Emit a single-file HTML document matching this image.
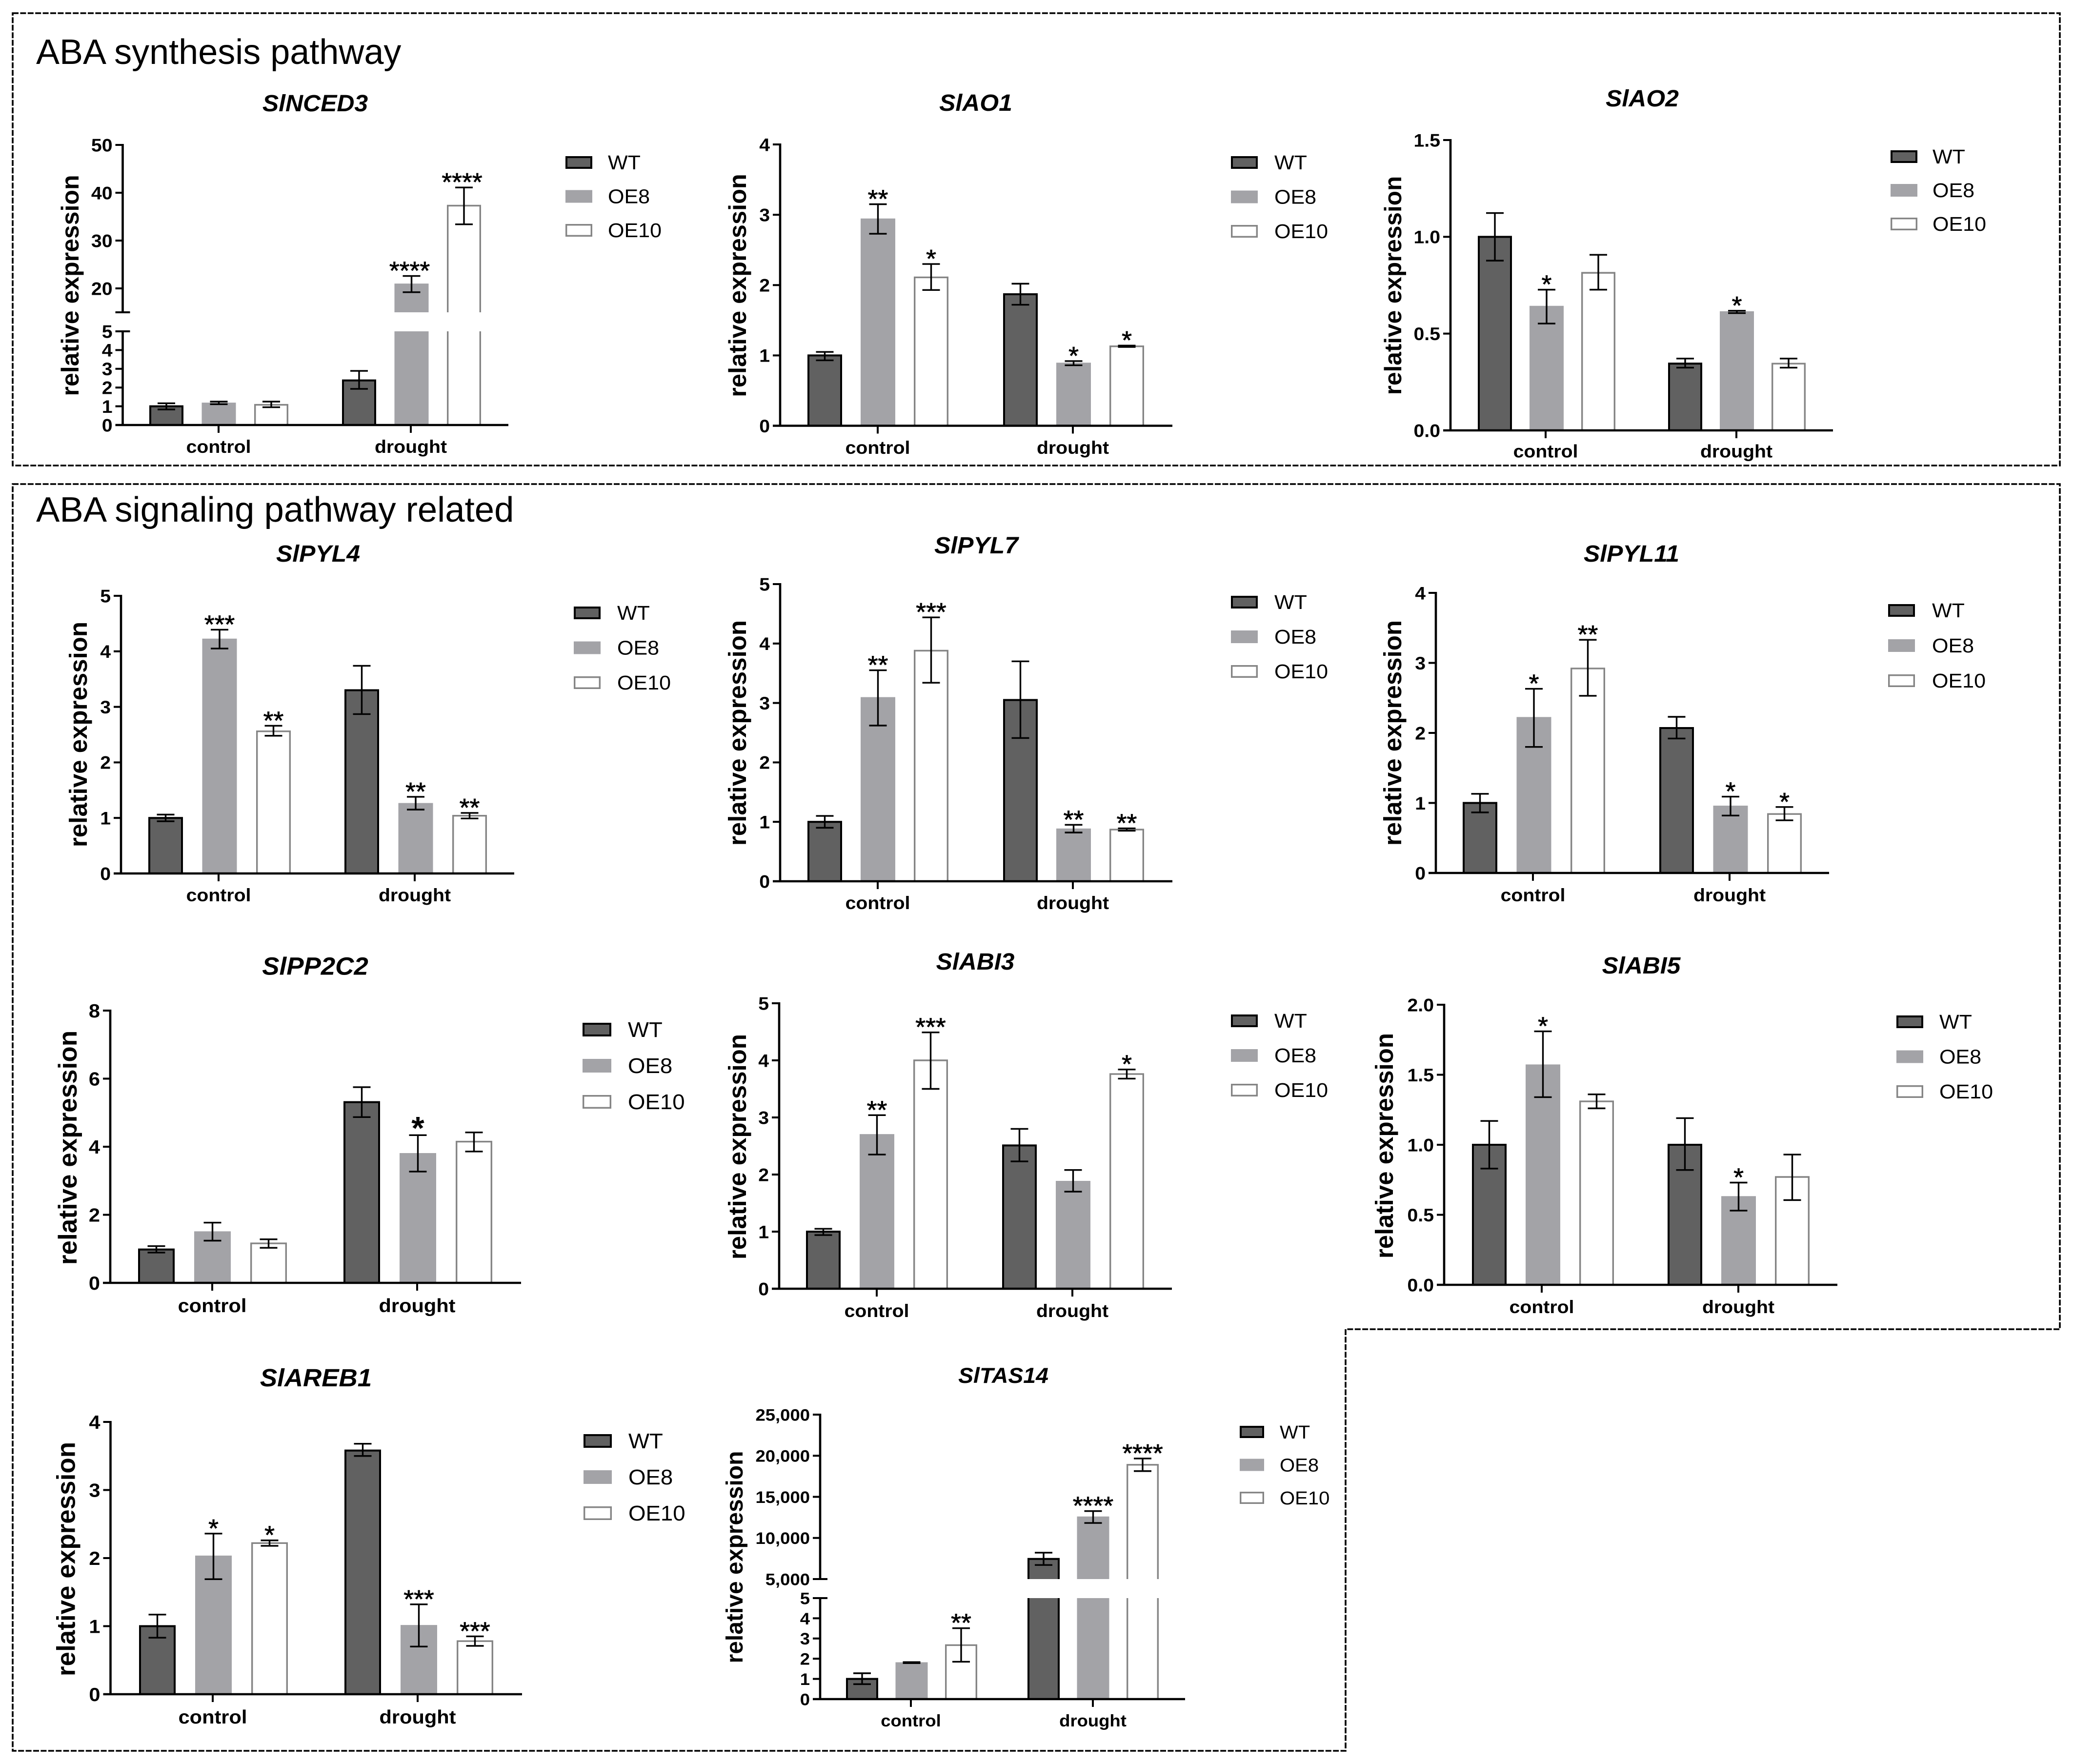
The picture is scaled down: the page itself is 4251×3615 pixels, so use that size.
<!DOCTYPE html>
<html lang="en">
<head>
<meta charset="utf-8">
<title>ABA pathway gene expression</title>
<style>
html,body{margin:0;padding:0;background:#fff;}
svg{display:block;}
text{font-family:"Liberation Sans",Arial,sans-serif;fill:#000;}
</style>
</head>
<body>
<svg id="figure" xmlns="http://www.w3.org/2000/svg" width="4251" height="3615" viewBox="0 0 4251 3615">
  <rect x="0" y="0" width="4251" height="3615" fill="#fff"/>
  <rect x="26" y="27" width="4196" height="927" fill="none" stroke="#000" stroke-width="3.6" stroke-dasharray="12 3.4"/>
  <path d="M26 992 H4222 V2724 H2758 V3588 H26 Z" fill="none" stroke="#000" stroke-width="3.6" stroke-dasharray="12 3.4"/>
  <text x="74" y="131" font-size="72">ABA synthesis pathway</text>
  <text x="74" y="1069" font-size="72.5">ABA signaling pathway related</text>
  <g id="charts"></g>
</svg>
<script>
const seriesNames = ['WT', 'OE8', 'OE10'];
const groupNames = ['control', 'drought'];
const yAxisTitle = 'relative expression';

const nced3Values = [1, 1.17, 1.08, 2.38, 20.9, 37.3];
const nced3ErrUp = [0.16, 0.08, 0.17, 0.51, 1.7, 3.8];
const nced3ErrDown = [0.17, 0.06, 0.13, 0.45, 1.7, 3.9];
const nced3Stars = ['', '', '', '', '****', '****'];
const nced3LowerTicks = ['0', '1', '2', '3', '4', '5'];
const nced3UpperTicks = ['20', '30', '40', '50'];
const nced3LowerRange = [0, 5];
const nced3UpperRange = [15, 50];

const ao1Values = [1, 2.94, 2.11, 1.87, 0.89, 1.13];
const ao1ErrUp = [0.05, 0.21, 0.19, 0.15, 0.03, 0.01];
const ao1ErrDown = [0.07, 0.21, 0.18, 0.15, 0.03, 0.01];
const ao1Stars = ['', '**', '*', '', '*', '*'];
const ao1Ticks = ['0', '1', '2', '3', '4'];
const ao1Range = [0, 4];

const ao2Values = [1, 0.641, 0.814, 0.345, 0.613, 0.345];
const ao2ErrUp = [0.123, 0.086, 0.093, 0.026, 0.005, 0.026];
const ao2ErrDown = [0.123, 0.089, 0.087, 0.021, 0.007, 0.021];
const ao2Stars = ['', '*', '', '', '*', ''];
const ao2Ticks = ['0.0', '0.5', '1.0', '1.5'];
const ao2Range = [0, 1.5];

const pyl4Values = [1, 4.22, 2.56, 3.3, 1.26, 1.04];
const pyl4ErrUp = [0.06, 0.17, 0.1, 0.44, 0.12, 0.05];
const pyl4ErrDown = [0.06, 0.17, 0.08, 0.43, 0.11, 0.05];
const pyl4Stars = ['', '***', '**', '', '**', '**'];
const pyl4Ticks = ['0', '1', '2', '3', '4', '5'];
const pyl4Range = [0, 5];

const pyl7Values = [1, 3.09, 3.88, 3.05, 0.88, 0.87];
const pyl7ErrUp = [0.1, 0.46, 0.56, 0.65, 0.07, 0.02];
const pyl7ErrDown = [0.1, 0.47, 0.54, 0.64, 0.06, 0.02];
const pyl7Stars = ['', '**', '***', '', '**', '**'];
const pyl7Ticks = ['0', '1', '2', '3', '4', '5'];
const pyl7Range = [0, 5];

const pyl11Values = [1, 2.22, 2.92, 2.07, 0.955, 0.842];
const pyl11ErrUp = [0.13, 0.41, 0.41, 0.16, 0.135, 0.1];
const pyl11ErrDown = [0.135, 0.42, 0.39, 0.15, 0.135, 0.09];
const pyl11Stars = ['', '*', '**', '', '*', '*'];
const pyl11Ticks = ['0', '1', '2', '3', '4'];
const pyl11Range = [0, 4];

const pp2c2Values = [0.98, 1.5, 1.16, 5.31, 3.8, 4.15];
const pp2c2ErrUp = [0.1, 0.27, 0.12, 0.44, 0.54, 0.27];
const pp2c2ErrDown = [0.09, 0.26, 0.13, 0.44, 0.53, 0.29];
const pp2c2Stars = ['', '', '', '', '*', ''];
const pp2c2Ticks = ['0', '2', '4', '6', '8'];
const pp2c2Range = [0, 8];

const abi3Values = [1, 2.7, 4, 2.51, 1.88, 3.76];
const abi3ErrUp = [0.05, 0.34, 0.49, 0.29, 0.2, 0.08];
const abi3ErrDown = [0.06, 0.35, 0.5, 0.28, 0.18, 0.08];
const abi3Stars = ['', '**', '***', '', '', '*'];
const abi3Ticks = ['0', '1', '2', '3', '4', '5'];
const abi3Range = [0, 5];

const abi5Values = [1, 1.57, 1.31, 1, 0.63, 0.77];
const abi5ErrUp = [0.17, 0.24, 0.05, 0.19, 0.1, 0.16];
const abi5ErrDown = [0.17, 0.23, 0.05, 0.18, 0.1, 0.165];
const abi5Stars = ['', '*', '', '', '*', ''];
const abi5Ticks = ['0.0', '0.5', '1.0', '1.5', '2.0'];
const abi5Range = [0, 2];

const areb1Values = [1, 2.03, 2.22, 3.58, 1.01, 0.78];
const areb1ErrUp = [0.17, 0.33, 0.04, 0.1, 0.31, 0.07];
const areb1ErrDown = [0.17, 0.34, 0.04, 0.08, 0.31, 0.07];
const areb1Stars = ['', '*', '*', '', '***', '***'];
const areb1Ticks = ['0', '1', '2', '3', '4'];
const areb1Range = [0, 4];

const tas14Values = [1, 1.8, 2.67, 7450, 12550, 18900];
const tas14ErrUp = [0.28, 0.03, 0.84, 760, 720, 760];
const tas14ErrDown = [0.26, 0.02, 0.82, 740, 730, 770];
const tas14Stars = ['', '', '**', '', '****', '****'];
const tas14LowerTicks = ['0', '1', '2', '3', '4', '5'];
const tas14UpperTicks = ['5,000', '10,000', '15,000', '20,000', '25,000'];
const tas14LowerRange = [0, 5];
const tas14UpperRange = [5000, 25000];

const svgNS = 'http://www.w3.org/2000/svg';
const BAR_STYLES = [
  {fill: '#616161', stroke: '#000000', sw: 4},
  {fill: '#a3a3a7', stroke: '#a3a3a7', sw: 2},
  {fill: '#ffffff', stroke: '#858585', sw: 3.4}
];

function make(parent, tag, attrs) {
  const el = document.createElementNS(svgNS, tag);
  for (const key in attrs) el.setAttribute(key, attrs[key]);
  parent.appendChild(el);
  return el;
}

function makeText(parent, str, x, y, size, stretch, anchor, extra) {
  const attrs = Object.assign({
    transform: 'translate(' + x + ' ' + y + ') scale(' + stretch + ' 1)',
    'font-size': size,
    'text-anchor': anchor
  }, extra || {});
  const t = make(parent, 'text', attrs);
  t.textContent = str;
  return t;
}

function parseTick(label) {
  return Number(label.replace(/,/g, ''));
}

function makeYScale(segments) {
  return function (v) {
    let seg = segments[0];
    for (const s of segments) {
      if (v >= s.min) seg = s;
    }
    return seg.y0 + (v - seg.min) / (seg.max - seg.min) * (seg.y1 - seg.y0);
  };
}

function drawChart(cfg) {
  const root = document.getElementById('charts');
  const k = cfg.k || 1;
  const yScale = makeYScale(cfg.segments);
  const xScale = function (i) {
    const group = Math.floor(i / seriesNames.length);
    const series = i % seriesNames.length;
    return cfg.groupLeft[group] + series * cfg.step;
  };

  const g = make(root, 'g', {});
  
  

  const title = makeText(g, cfg.title, cfg.titleX, cfg.titleY, 48 * k, 1.04, 'middle', {'font-weight': 'bold', 'font-style': 'italic'});
  
  

  const yTitle = make(g, 'text', {
    transform: 'translate(' + cfg.yTitleX + ' ' + cfg.yTitleY + ') rotate(-90)',
    'font-size': cfg.yTitleSize,
    'font-weight': 'bold',
    'text-anchor': 'middle'
  });
  yTitle.textContent = yAxisTitle;
  
  

  // bars
  cfg.values.forEach(function (v, i) {
    const style = BAR_STYLES[i % seriesNames.length];
    const left = xScale(i);
    const barGroup = make(g, 'g', {});
    
    
    cfg.segments.forEach(function (seg) {
      if (v <= seg.min) return;
      const clipped = v > seg.max;
      const base = seg.y0;
      const top = clipped ? seg.y1 : yScale(v);
      const l = left + style.sw / 2;
      const r = left + cfg.barW - style.sw / 2;
      make(barGroup, 'rect', {x: l, y: top, width: r - l, height: Math.max(base - top, 0), fill: style.fill});
      const d = clipped
        ? 'M' + l + ' ' + base + ' V' + top + ' M' + r + ' ' + base + ' V' + top
        : 'M' + l + ' ' + base + ' V' + top + ' H' + r + ' V' + base;
      make(barGroup, 'path', {d: d, fill: 'none', stroke: style.stroke, 'stroke-width': style.sw});
    });
  });

  // error bars and significance marks
  cfg.values.forEach(function (v, i) {
    const cx = xScale(i) + cfg.barW / 2;
    const yTop = yScale(v + cfg.errUp[i]);
    const yBottom = yScale(v - cfg.errDown[i]);
    const cap = 18;
    const err = make(g, 'path', {
      d: 'M' + cx + ' ' + yTop + ' V' + yBottom + ' M' + (cx - cap) + ' ' + yTop + ' H' + (cx + cap) + ' M' + (cx - cap) + ' ' + yBottom + ' H' + (cx + cap),
      fill: 'none', stroke: '#000', 'stroke-width': 3.4
    });
    
    
    if (cfg.stars[i]) {
      const size = cfg.bigStar ? 66 : 52;
      const star = makeText(g, cfg.stars[i], cx + (cfg.starDx || 0), yTop + (cfg.bigStar ? 8 : 7), size, 1.03, 'middle', cfg.bigStar ? {'font-weight': 'bold'} : {stroke: '#000', 'stroke-width': 0.8});
      
      
    }
  });

  // y axis
  const tickLen = 15;
  const broken = cfg.segments.length > 1;
  cfg.segments.forEach(function (seg, s) {
    const axisTop = seg.y1 - 2;
    const axisBottom = seg.y0 + 2;
    const axisLine = make(g, 'line', {x1: cfg.axisX, x2: cfg.axisX, y1: axisTop, y2: axisBottom, stroke: '#000', 'stroke-width': 4.6});
    
    
    seg.ticks.forEach(function (label) {
      const val = parseTick(label);
      const y = yScale(val);
      const isCap = broken && ((s === 0 && val === seg.max) || (s > 0 && val === seg.min));
      const tick = make(g, 'line', {x1: cfg.axisX - tickLen, x2: cfg.axisX + (isCap ? tickLen : 0), y1: y, y2: y, stroke: '#000', 'stroke-width': 4});
      
      
      const size = 37 * k;
      const txt = makeText(g, label, cfg.axisX - tickLen - 6, y + size * 0.36, size, 1.06, 'end', {'font-weight': 'bold'});
      
      
    });
    if (broken && s > 0) {
      const y = seg.y0;
      const endCap = make(g, 'line', {x1: cfg.axisX - tickLen, x2: cfg.axisX + tickLen, y1: y, y2: y, stroke: '#000', 'stroke-width': 4});
      
      
    }
  });

  // x axis
  const baseY = cfg.segments[0].y0;
  const xAxis = make(g, 'line', {x1: cfg.axisX - tickLen, x2: cfg.xEnd, y1: baseY, y2: baseY, stroke: '#000', 'stroke-width': 4.6});
  
  
  groupNames.forEach(function (name, i) {
    const tx = cfg.groupTick[i];
    const tick = make(g, 'line', {x1: tx, x2: tx, y1: baseY, y2: baseY + 16, stroke: '#000', 'stroke-width': 4});
    
    
    const lab = makeText(g, name, tx, cfg.catY, 37 * k, 1.06, 'middle', {'font-weight': 'bold'});
    
    
  });

  // legend
  const legendW = cfg.legendW || 55;
  const legendH = cfg.legendH || 26;
  seriesNames.forEach(function (name, i) {
    const style = BAR_STYLES[i];
    const entry = make(g, 'g', {});
    
    
    const y = cfg.legendTop + i * cfg.legendStep;
    make(entry, 'rect', {
      x: cfg.legendX + style.sw / 2, y: y + style.sw / 2,
      width: legendW - style.sw, height: legendH - style.sw,
      fill: style.fill, stroke: style.stroke, 'stroke-width': style.sw
    });
    makeText(entry, name, cfg.legendTextX, y + legendH + 1, 41 * k, 1.05, 'start');
  });
}

drawChart({key: 'slnced3', title: 'SlNCED3', titleX: 646, titleY: 228,
  values: nced3Values, errUp: nced3ErrUp, errDown: nced3ErrDown, stars: nced3Stars, starDx: -4,
  segments: [
    {min: nced3LowerRange[0], max: nced3LowerRange[1], y0: 871, y1: 679, ticks: nced3LowerTicks},
    {min: nced3UpperRange[0], max: nced3UpperRange[1], y0: 640, y1: 297, ticks: nced3UpperTicks}
  ],
  axisX: 251.5, xEnd: 1042, groupTick: [448, 842], groupLeft: [306, 701], step: 107.5, barW: 70, catY: 928,
  yTitleX: 161, yTitleY: 585, yTitleSize: 50,
  legendX: 1159, legendTop: 320, legendStep: 69.5, legendTextX: 1246});

drawChart({key: 'slao1', title: 'SlAO1', titleX: 2000, titleY: 227,
  values: ao1Values, errUp: ao1ErrUp, errDown: ao1ErrDown, stars: ao1Stars,
  segments: [{min: ao1Range[0], max: ao1Range[1], y0: 872.5, y1: 296, ticks: ao1Ticks}],
  axisX: 1599, xEnd: 2403, groupTick: [1799, 2199], groupLeft: [1655, 2056], step: 109, barW: 71, catY: 930,
  yTitleX: 1529, yTitleY: 585, yTitleSize: 50.5,
  legendX: 2523, legendTop: 320, legendStep: 70.5, legendTextX: 2612});

drawChart({key: 'slao2', title: 'SlAO2', titleX: 3366, titleY: 218,
  values: ao2Values, errUp: ao2ErrUp, errDown: ao2ErrDown, stars: ao2Stars,
  segments: [{min: ao2Range[0], max: ao2Range[1], y0: 882, y1: 287, ticks: ao2Ticks}],
  axisX: 2973, xEnd: 3757, groupTick: [3168, 3559], groupLeft: [3029, 3419], step: 106, barW: 70, catY: 937.5,
  yTitleX: 2872, yTitleY: 585, yTitleSize: 49.5,
  legendX: 3875, legendTop: 308, legendStep: 69, legendTextX: 3961});

drawChart({key: 'slpyl4', title: 'SlPYL4', titleX: 652, titleY: 1151,
  values: pyl4Values, errUp: pyl4ErrUp, errDown: pyl4ErrDown, stars: pyl4Stars,
  segments: [{min: pyl4Range[0], max: pyl4Range[1], y0: 1790, y1: 1221, ticks: pyl4Ticks}],
  axisX: 248, xEnd: 1054, groupTick: [448, 850], groupLeft: [304, 706], step: 110.5, barW: 71, catY: 1847,
  yTitleX: 178, yTitleY: 1505, yTitleSize: 51,
  legendX: 1176, legendTop: 1243, legendStep: 71.5, legendTextX: 1265});

drawChart({key: 'slpyl7', title: 'SlPYL7', titleX: 2001, titleY: 1134,
  values: pyl7Values, errUp: pyl7ErrUp, errDown: pyl7ErrDown, stars: pyl7Stars,
  segments: [{min: pyl7Range[0], max: pyl7Range[1], y0: 1806, y1: 1197, ticks: pyl7Ticks}],
  axisX: 1599, xEnd: 2403, groupTick: [1799, 2199], groupLeft: [1655, 2056], step: 109, barW: 71, catY: 1863,
  yTitleX: 1529, yTitleY: 1502, yTitleSize: 51,
  legendX: 2523, legendTop: 1221, legendStep: 71, legendTextX: 2612});

drawChart({key: 'slpyl11', title: 'SlPYL11', titleX: 3344, titleY: 1151,
  values: pyl11Values, errUp: pyl11ErrUp, errDown: pyl11ErrDown, stars: pyl11Stars,
  segments: [{min: pyl11Range[0], max: pyl11Range[1], y0: 1789, y1: 1215, ticks: pyl11Ticks}],
  axisX: 2943, xEnd: 3749, groupTick: [3142, 3545], groupLeft: [2998, 3401], step: 110.5, barW: 71, catY: 1847,
  yTitleX: 2872, yTitleY: 1502, yTitleSize: 51,
  legendX: 3870, legendTop: 1238, legendStep: 72, legendTextX: 3960});

drawChart({key: 'slpp2c2', title: 'SlPP2C2', titleX: 646, titleY: 1997.5, k: 1.06, bigStar: true,
  values: pp2c2Values, errUp: pp2c2ErrUp, errDown: pp2c2ErrDown, stars: pp2c2Stars,
  segments: [{min: pp2c2Range[0], max: pp2c2Range[1], y0: 2629, y1: 2071, ticks: pp2c2Ticks}],
  axisX: 226, xEnd: 1068, groupTick: [435, 855], groupLeft: [283, 704], step: 115, barW: 75, catY: 2689,
  yTitleX: 157, yTitleY: 2352, yTitleSize: 53,
  legendX: 1194, legendW: 59, legendH: 28, legendTop: 2096, legendStep: 74, legendTextX: 1287});

drawChart({key: 'slabi3', title: 'SlABI3', titleX: 1999, titleY: 1987,
  values: abi3Values, errUp: abi3ErrUp, errDown: abi3ErrDown, stars: abi3Stars,
  segments: [{min: abi3Range[0], max: abi3Range[1], y0: 2641, y1: 2056, ticks: abi3Ticks}],
  axisX: 1597, xEnd: 2402, groupTick: [1797, 2198], groupLeft: [1652, 2054], step: 110, barW: 71, catY: 2699,
  yTitleX: 1529, yTitleY: 2350, yTitleSize: 51,
  legendX: 2523, legendTop: 2079, legendStep: 71, legendTextX: 2612});

drawChart({key: 'slabi5', title: 'SlABI5', titleX: 3364, titleY: 1995,
  values: abi5Values, errUp: abi5ErrUp, errDown: abi5ErrDown, stars: abi5Stars,
  segments: [{min: abi5Range[0], max: abi5Range[1], y0: 2633, y1: 2059, ticks: abi5Ticks}],
  axisX: 2960, xEnd: 3766, groupTick: [3160, 3563], groupLeft: [3017, 3418], step: 110, barW: 71, catY: 2691,
  yTitleX: 2855, yTitleY: 2348, yTitleSize: 51,
  legendX: 3887, legendTop: 2081, legendStep: 71.5, legendTextX: 3975});

drawChart({key: 'slareb1', title: 'SlAREB1', titleX: 647.5, titleY: 2841, k: 1.06,
  values: areb1Values, errUp: areb1ErrUp, errDown: areb1ErrDown, stars: areb1Stars,
  segments: [{min: areb1Range[0], max: areb1Range[1], y0: 3472, y1: 2914, ticks: areb1Ticks}],
  axisX: 226.5, xEnd: 1070, groupTick: [436, 856], groupLeft: [285, 706], step: 115, barW: 75, catY: 3532,
  yTitleX: 153.5, yTitleY: 3195, yTitleSize: 53,
  legendX: 1196, legendW: 58, legendH: 28, legendTop: 2939, legendStep: 74, legendTextX: 1288});

drawChart({key: 'sltas14', title: 'SlTAS14', titleX: 2056.5, titleY: 2834, k: 0.93,
  values: tas14Values, errUp: tas14ErrUp, errDown: tas14ErrDown, stars: tas14Stars,
  segments: [
    {min: tas14LowerRange[0], max: tas14LowerRange[1], y0: 3482, y1: 3275, ticks: tas14LowerTicks},
    {min: tas14UpperRange[0], max: tas14UpperRange[1], y0: 3236, y1: 2899, ticks: tas14UpperTicks}
  ],
  axisX: 1681, xEnd: 2429, groupTick: [1867, 2240], groupLeft: [1734, 2106], step: 101.5, barW: 66, catY: 3538,
  yTitleX: 1522, yTitleY: 3191, yTitleSize: 48,
  legendX: 2541, legendW: 50, legendH: 25, legendTop: 2922, legendStep: 67.5, legendTextX: 2623});
</script>
</body>
</html>
